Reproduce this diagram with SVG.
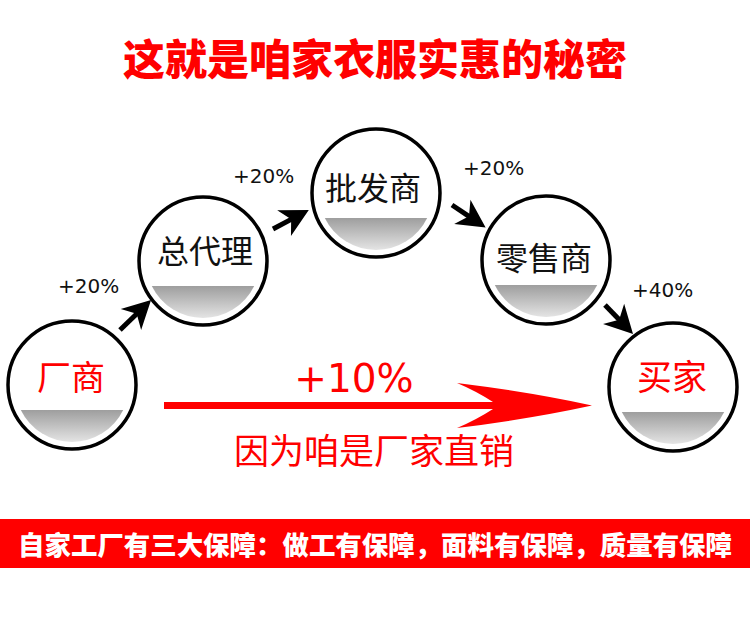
<svg xmlns="http://www.w3.org/2000/svg" width="750" height="625" viewBox="0 0 750 625">
<style>
.ring{fill:#fff;stroke:#000;stroke-width:3.5}
.cn{font-family:"Noto Sans CJK SC","Noto Sans",sans-serif;text-anchor:middle}
.lbl{font-family:"Noto Sans CJK SC","Noto Sans",sans-serif;font-size:32px;fill:#111}
.red{fill:#ff0000}
.pct{font-family:"DejaVu Sans","Noto Sans",sans-serif;font-size:20px;fill:#111}
.conn{stroke:#000;stroke-width:5;fill:none;marker-end:url(#ah)}
</style>
<defs>
<linearGradient id="gg" x1="0" y1="0" x2="0" y2="1">
<stop offset="0" stop-color="#9e9e9e"/>
<stop offset="1" stop-color="#e4e4e4"/>
</linearGradient>
<marker id="ah" markerUnits="userSpaceOnUse" markerWidth="40" markerHeight="40" viewBox="-12 -15 30 30" refX="0" refY="0" orient="auto">
<path d="M13,0 L-8,-11 L-2,0 L-8,11 Z" fill="#000"/>
</marker>
<g id="node">
<circle r="64" class="ring"/>
<path d="M-51.2,25 H51.2 A57,57 0 0 1 -51.2,25 Z" fill="url(#gg)"/>
</g>
</defs>
<rect width="750" height="625" fill="#fff"/>
<text x="375" y="75" class="cn" font-size="42" font-weight="900" fill="#ff0000">这就是咱家衣服实惠的秘密</text>
<g id="connectors">
<line x1="120" y1="330" x2="138.6" y2="312" class="conn"/>
<line x1="273" y1="229" x2="293.5" y2="218.1" class="conn"/>
<line x1="452" y1="205" x2="471.2" y2="217.8" class="conn"/>
<line x1="605" y1="305" x2="621" y2="321.6" class="conn"/>
<path id="bigArrow" d="M164,402 L493,402 Q476,391 457,383 Q530,392 592,405.5 Q530,419 457,428 Q476,420 493,409 L164,409 Z" fill="#ff0000"/>
</g>
<g id="labels">
<text x="58" y="293" class="pct">+20%</text>
<text x="233" y="183" class="pct">+20%</text>
<text x="463" y="175" class="pct">+20%</text>
<text x="632" y="297" class="pct">+40%</text>
<text x="354" y="392" font-family="DejaVu Sans,Noto Sans,sans-serif" font-size="39" fill="#ff0000" text-anchor="middle">+10%</text>
<text x="374" y="464" class="cn red" font-size="35">因为咱是厂家直销</text>
</g>
<g id="n-factory">
<use href="#node" x="72" y="385"/>
<text x="71" y="390" class="cn red" font-size="34">厂商</text>
</g>
<g id="n-agent">
<use href="#node" x="203" y="261"/>
<text x="205" y="263" class="cn lbl">总代理</text>
</g>
<g id="n-wholesale">
<use href="#node" x="376" y="193"/>
<text x="373" y="200" class="cn lbl">批发商</text>
</g>
<g id="n-retail">
<use href="#node" x="546" y="260"/>
<text x="544" y="270" class="cn lbl">零售商</text>
</g>
<g id="n-buyer">
<use href="#node" x="673" y="387"/>
<text x="672" y="390" class="cn red" font-size="35">买家</text>
</g>
<g id="banner">
<rect x="0" y="519" width="750" height="49" fill="#ff0000"/>
<text x="18" y="555" font-family="Noto Sans CJK SC,sans-serif" font-size="26.5" font-weight="900" fill="#fff" textLength="714" lengthAdjust="spacingAndGlyphs">自家工厂有三大保障：做工有保障，面料有保障，质量有保障</text>
</g>
</svg>
